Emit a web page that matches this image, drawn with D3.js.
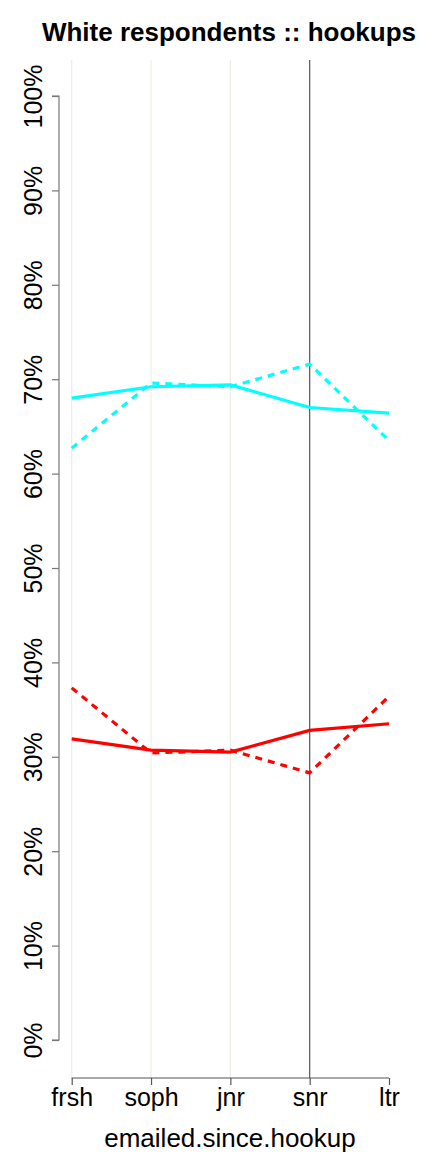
<!DOCTYPE html>
<html><head><meta charset="utf-8">
<script src="https://cdn.jsdelivr.net/npm/d3@7"></script>
<style>html,body{margin:0;padding:0;background:#fff;}svg{display:block;font-family:"Liberation Sans",Arial,sans-serif;}</style>
</head><body>
<script>
const categories = ["frsh","soph","jnr","snr","ltr"];
const cyanSolid  = [68.0, 69.2, 69.4, 67.0, 66.4];
const cyanDashed = [62.7, 69.6, 69.2, 71.6, 63.5];
const redSolid   = [31.9, 30.7, 30.5, 32.8, 33.5];
const redDashed  = [37.3, 30.4, 30.7, 28.3, 36.4];
const yTicks = [0,10,20,30,40,50,60,70,80,90,100];
const title = "White respondents :: hookups";
const xLabel = "emailed.since.hookup";

const W = 432, H = 1152;
const svg = d3.select("body").append("svg").attr("width", W).attr("height", H);
const x = d3.scalePoint().domain(categories).range([71.7, 389]);
const y = d3.scaleLinear().domain([0,100]).range([1040, 96]);

// vertical reference lines
const vlines = [
  {c:"frsh", col:"#f0eee2"},{c:"soph", col:"#f0eee2"},{c:"jnr", col:"#f0eee2"},{c:"snr", col:"#555555"}
];
svg.selectAll("line.v").data(vlines).enter().append("line")
  .attr("x1", d=>x(d.c)).attr("x2", d=>x(d.c)).attr("y1", 60).attr("y2", 1078)
  .attr("stroke", d=>d.col).attr("stroke-width", 1.2);

// y axis
const yAxis = d3.axisLeft(y).tickValues(yTicks).tickFormat(d=>d+"%").tickSize(7).tickPadding(8);
const gy = svg.append("g").attr("transform","translate(59,0)").call(yAxis);
gy.select(".domain").attr("stroke","#777").attr("stroke-width",1.2).attr("d","M-7,"+y(100)+"H0V"+y(0)+"H-7");
gy.selectAll(".tick line").attr("stroke","#777").attr("stroke-width",1.2);
gy.selectAll(".tick text").attr("font-size",25).attr("fill","#000")
  .attr("transform", function(d){return "translate(-17,0) rotate(-90)";})
  .attr("x",0).attr("dy","0").attr("text-anchor","middle").attr("dominant-baseline","auto");

// x axis
const xAxis = d3.axisBottom(x).tickSize(7).tickPadding(2);
const gx = svg.append("g").attr("transform","translate(0,1078)").call(xAxis);
gx.select(".domain").attr("stroke","#555").attr("stroke-width",1.2).attr("d","M"+x("frsh")+",0H"+x("ltr"));
gx.selectAll(".tick line").attr("stroke","#555").attr("stroke-width",1.2);
gx.selectAll(".tick text").attr("font-size",25).attr("fill","#000").attr("dy","0.75em");

// lines
const line = d3.line().x((d,i)=>x(categories[i])).y(d=>y(d));
const series = [
  {v:cyanSolid, col:"#00ffff", dash:null},
  {v:cyanDashed, col:"#00ffff", dash:"7,6"},
  {v:redSolid, col:"#ff0000", dash:null},
  {v:redDashed, col:"#ff0000", dash:"7,6"}
];
svg.selectAll("path.s").data(series).enter().append("path")
  .attr("d", d=>line(d.v)).attr("fill","none").attr("stroke", d=>d.col)
  .attr("stroke-width",3.2).attr("stroke-dasharray", d=>d.dash);

// title
svg.append("text").attr("x", 229).attr("y", 41).attr("text-anchor","middle")
  .attr("font-size",26).attr("font-weight","bold").text(title);
svg.append("text").attr("x", 230).attr("y", 1147).attr("text-anchor","middle")
  .attr("font-size",26).text(xLabel);
</script>
</body></html>
